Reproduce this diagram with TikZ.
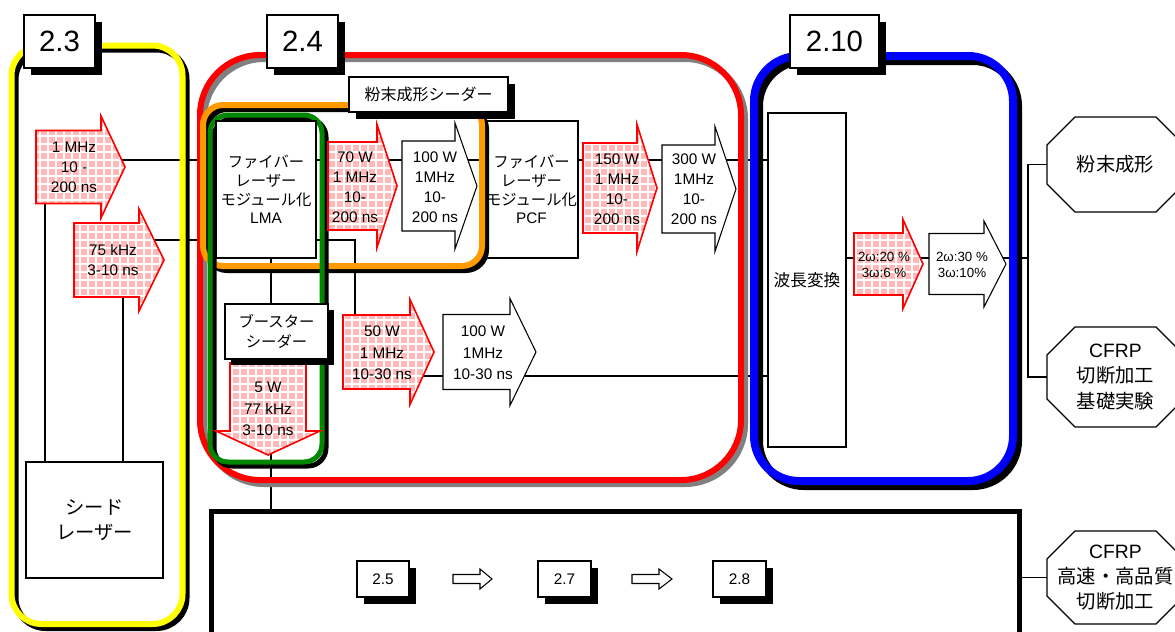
\documentclass[tikz,border=0pt]{standalone}
\usepackage{fontspec}
\setmainfont{Liberation Sans}
\newfontfamily\jp{Noto Sans CJK JP}
\usetikzlibrary{patterns.meta,shadows}
\newdimen\px \px=0.75pt
\definecolor{pinkc}{RGB}{255,185,185}
\definecolor{orng}{RGB}{255,153,0}
\definecolor{grn}{RGB}{0,135,0}
\definecolor{ylw}{RGB}{255,255,0}
\pgfdeclarelayer{lines}
\pgfdeclarelayer{boxlow}
\pgfdeclarelayer{frames}
\pgfsetlayers{lines,boxlow,frames,main}
% right-pointing block arrow: style, x0, x1 (head base), x2 (tip), yc, half body, half head
\newcommand\rarr[7]{\path[#1] (#2,#5-#6) -- (#3,#5-#6) -- (#3,#5-#7) -- (#4,#5) -- (#3,#5+#7) -- (#3,#5+#6) -- (#2,#5+#6) -- cycle;}
% octagon: x0, x1, y0, y1, chamfer
\newcommand\octo[5]{\draw[octs] (#1+#5,#3) -- (#2-#5,#3) -- (#2,#3+#5) -- (#2,#4-#5) -- (#2-#5,#4) -- (#1+#5,#4) -- (#1,#4-#5) -- (#1,#3+#5) -- cycle;}
\begin{document}
\begin{tikzpicture}[x=0.75pt, y=-0.75pt,
  conn/.style={draw=black, line width=0.8pt},
  redarr/.style={preaction={fill=pinkc}, preaction={pattern={Hatch[distance=6pt,angle=0,line width=2.2pt]}, pattern color=white}, draw=red, line width=1.2pt, line join=miter},
  warr/.style={fill=white, draw=black, line width=0.8pt},
  boxs/.style={draw=black, fill=white, line width=0.8pt, inner sep=0},
  lbl/.style={draw=black, fill=white, line width=1pt, inner sep=0, drop shadow={shadow xshift=5.25pt, shadow yshift=-5.25pt, fill=black, opacity=1}},
  sbl/.style={draw=black, fill=white, line width=1pt, inner sep=0, drop shadow={shadow xshift=5.5pt, shadow yshift=-5.5pt, fill=black, opacity=1}},
  octs/.style={draw=black, fill=white, line width=1pt},
  txt/.style={align=center, inner sep=0, font=\fontsize{11.5}{15}\selectfont},
  txt3/.style={align=center, inner sep=0, font=\fontsize{11.5}{16}\selectfont},
  wtxt/.style={align=center, inner sep=0, font=\fontsize{10}{12}\selectfont},
  jtxt/.style={align=center, font=\jp\fontsize{11.5}{14}\selectfont},
  otxt/.style={align=center, inner sep=0, font=\jp\fontsize{14.5}{19}\selectfont},
  bigl/.style={font=\fontsize{22}{26}\selectfont},
  frm/.style={line width=6\px}
]
\useasboundingbox (0,0) rectangle (1175,632);

% ---------- frames ----------
\begin{pgfonlayer}{frames}
% 2.3 yellow
\draw[frm, black, rounded corners=30\px] (15.5,49.5) rectangle (186.5,628);
\draw[frm, ylw, rounded corners=30\px] (11.5,45.5) rectangle (182.5,624);
% 2.4 red
\draw[frm, gray, rounded corners=60\px] (204,59) rectangle (745,484);
\draw[frm, red, rounded corners=60\px] (200,55) rectangle (741,480);
% 2.10 blue
\draw[line width=8\px, black, rounded corners=45\px] (759,61) rectangle (1018,486);
\draw[line width=8\px, blue, rounded corners=45\px] (754,56) rectangle (1013,481);
% orange group
\draw[frm, black, rounded corners=20\px] (207,109) rectangle (486,270);
\draw[frm, orng, rounded corners=20\px] (203,105) rectangle (482,266);
% green group
\draw[line width=5\px, black, rounded corners=18\px] (214,119) rectangle (326,466);
\draw[line width=5\px, grn, rounded corners=18\px] (210,115) rectangle (322,462);
% bottom frame
\node[draw=black, line width=5\px, minimum width=808\px, minimum height=189\px, inner sep=0, outer sep=0] (proc) at (615,605.5) {};
\end{pgfonlayer}

% ---------- PCF box (under orange frame) ----------
\begin{pgfonlayer}{boxlow}
\node[boxs, jtxt, minimum width=93\px, minimum height=137\px] (pcf) at (531.5,189.5) {ファイバー\\レーザー\\モジュール化\\{\normalfont PCF}};
\end{pgfonlayer}

% ---------- boxes ----------
\node[boxs, jtxt, minimum width=100\px, minimum height=137\px] (lma) at (266,189.5) {ファイバー\\レーザー\\モジュール化\\{\normalfont LMA}};
\node[boxs, align=center, font=\jp\fontsize{14.5}{19}\selectfont, minimum width=137\px, minimum height=116\px] (seed) at (94.5,520) {シード\\レーザー};
\node[boxs, font=\jp\fontsize{12.5}{14}\selectfont, minimum width=78\px, minimum height=334\px] (wave) at (807,280) {波長変換};

% ---------- block arrows ----------
\rarr{redarr}{36}{101}{125}{167}{36.5}{51}
\rarr{redarr}{74}{139}{164}{260}{37}{51}
\rarr{redarr}{328}{377}{397}{186}{44}{61.5}
\rarr{warr}{402}{455}{477}{186}{45}{63}
\rarr{redarr}{583}{637}{657}{188}{45}{63.5}
\rarr{warr}{662}{715}{736}{189}{44}{62.5}
\rarr{redarr}{343}{410}{434}{352}{37}{52.5}
\rarr{warr}{443}{510}{536}{352}{37.5}{53.5}
\rarr{redarr}{854}{903}{923}{264}{31}{44.5}
\rarr{warr}{929}{984}{1006}{264}{30.5}{43}
\path[redarr] (230,363) -- (306,363) -- (306,431) -- (320,431) -- (268,455) -- (216,431) -- (230,431) -- cycle;
\rarr{warr}{453}{480}{492}{579}{4.5}{10}
\rarr{warr}{632}{659}{672}{579}{4.5}{10}

% booster box (over the down arrow)
\node[boxs, jtxt, font=\jp\fontsize{11.5}{15}\selectfont, minimum width=103\px, minimum height=55\px, drop shadow={shadow xshift=4.5pt, shadow yshift=-4.5pt, fill=black, opacity=1}] (boost) at (276.5,331.5) {ブースター\\シーダー};

% arrow texts
\node[txt] (tA) at (74,167) {1 MHz\\10 -\\200 ns};
\node[txt] (tB) at (113,260) {75 kHz\\3-10 ns};
\node[txt] (t70) at (355,187) {70 W\\1 MHz\\10-\\200 ns};
\node[txt] (t100) at (435,187) {100 W\\1MHz\\10-\\200 ns};
\node[txt] (t150) at (617,189) {150 W\\1 MHz\\10-\\200 ns};
\node[txt] (t300) at (694,189) {300 W\\1MHz\\10-\\200 ns};
\node[txt3] (t50) at (382,353) {50 W\\1 MHz\\10-30 ns};
\node[txt3] (t100b) at (483,353) {100 W\\1MHz\\10-30 ns};
\node[txt3] (t5) at (268,409) {5 W\\77 kHz\\3-10 ns};
\node[wtxt] (tw1) at (884,265) {2ω:20 \%\\3ω:6 \%};
\node[wtxt] (tw2) at (962,265) {2ω:30 \%\\3ω:10\%};

% ---------- labels ----------
\node[lbl, bigl, minimum width=71\px, minimum height=53\px] (l23) at (59.5,41.5) {2.3};
\node[lbl, bigl, minimum width=71\px, minimum height=53\px] (l24) at (302.5,41.5) {2.4};
\node[lbl, bigl, minimum width=89\px, minimum height=53\px] (l210) at (834.5,41.5) {2.10};
\node[lbl, font=\jp\fontsize{12}{14}\selectfont, minimum width=159\px, minimum height=35\px] (lps) at (428.5,94.5) {粉末成形シーダー};
\node[sbl, font=\fontsize{11.5}{14}\selectfont, minimum width=52\px, minimum height=36\px] (s25) at (383,579) {2.5};
\node[sbl, font=\fontsize{11.5}{14}\selectfont, minimum width=53\px, minimum height=36\px] (s27) at (564.5,579) {2.7};
\node[sbl, font=\fontsize{11.5}{14}\selectfont, minimum width=53\px, minimum height=36\px] (s28) at (739.5,579) {2.8};

% ---------- octagons ----------
\octo{1047}{1184}{117}{212}{28}
\node[otxt, minimum width=137\px, minimum height=95\px] (oct1) at (1115.5,164.5) {粉末成形};
\octo{1047}{1184}{327}{427}{28}
\node[otxt, minimum width=137\px, minimum height=100\px] (oct2) at (1115.5,377) {{\normalfont CFRP}\\切断加工\\基礎実験};
\octo{1047}{1184}{531}{624}{28}
\node[otxt, minimum width=137\px, minimum height=93\px] (oct3) at (1115.5,577.5) {{\normalfont CFRP}\\高速・高品質\\切断加工};

% ---------- connectors ----------
\coordinate (j1) at (355,376);
\coordinate (j2) at (1028,164.5);
\coordinate (j3) at (1028,377);
\begin{pgfonlayer}{lines}
\draw[conn] (seed.north west -| 45,0) |- (lma.west |- 0,160);
\draw[conn] (seed.north west -| 123,0) |- (lma.west |- 0,240);
\draw[conn] (lma.east |- 0,160) -- (wave.west |- 0,160);
\draw[conn] (lma.east |- 0,240) -| (j1) -- (wave.west |- j1);
\draw[conn] (lma.south -| 271,0) -- (proc.north -| 271,0);
\draw[conn] (wave.east |- 0,258) -- (j2 |- 0,258);
\draw[conn] (oct1.west) -- (j2) -- (j3) -- (oct2.west);
\draw[conn] (proc.east |- oct3.west) -- (oct3.west);
\end{pgfonlayer}
\end{tikzpicture}
\end{document}
